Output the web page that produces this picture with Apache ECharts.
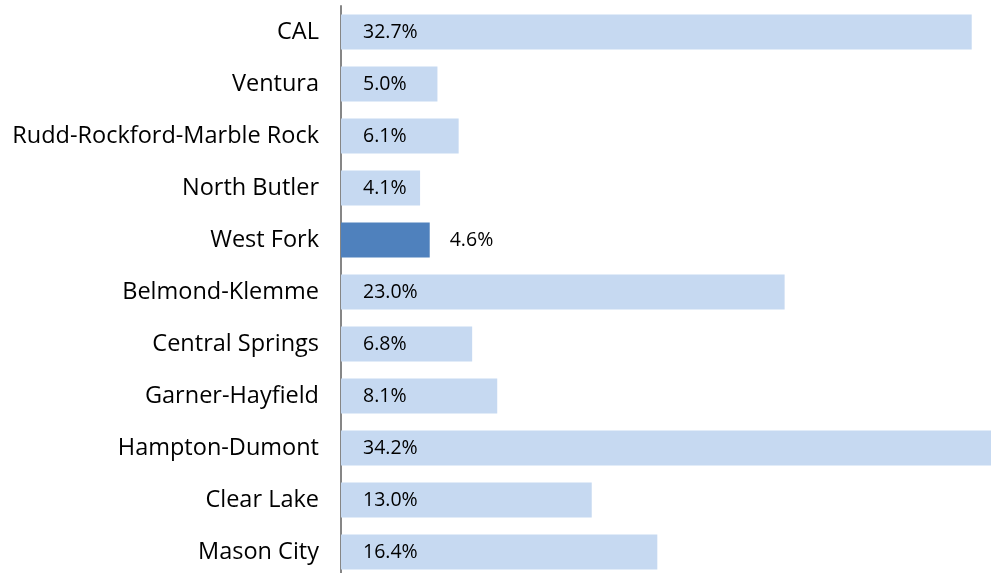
<!DOCTYPE html>
<html>
<head>
    <meta charset="utf-8">
    <title>bar chart</title>
    <script src="https://cdn.jsdelivr.net/npm/echarts@6/dist/echarts.min.js"></script>
    <style>
        html, body { margin: 0; padding: 0; background: #ffffff; overflow: hidden; }
        /* 图表比窗口略高，最下面一条被窗口截掉一点 */
        #main { width: 991px; height: 580px; }
    </style>
</head>
<body>
<div id="main"></div>
<script>
    var categories = ['CAL', 'Ventura', 'Rudd-Rockford-Marble Rock', 'North Butler', 'West Fork',
        'Belmond-Klemme', 'Central Springs', 'Garner-Hayfield', 'Hampton-Dumont', 'Clear Lake', 'Mason City'];
    var values = [32.7, 5.0, 6.1, 4.1, 4.6, 23.0, 6.8, 8.1, 34.2, 13.0, 16.4];
    var highlight = 'West Fork';

    var chart = echarts.init(document.getElementById('main'));

    // 高亮的那一条用深色，标签放在外面
    var barData = values.map(function (v, i) {
        var isHi = categories[i] === highlight;
        return {
            value: v,
            itemStyle: {color: isHi ? '#4f81bd' : '#c6d9f1'},
            label: isHi ? {position: 'right', distance: 20} : {position: 'insideLeft', distance: 22}
        };
    });

    var option = {
        animation: false,
        textStyle: {fontFamily: 'Open Sans'},
        grid: {left: 341, right: 0, top: 6, height: 572, containLabel: false},
        xAxis: {
            type: 'value',
            min: 0,
            max: 33.7,
            show: false
        },
        yAxis: {
            type: 'category',
            inverse: true,
            data: categories,
            axisLine: {show: true, lineStyle: {color: '#868686', width: 2}},
            axisTick: {show: false},
            axisLabel: {color: '#000000', fontSize: 23.5, fontFamily: 'Open Sans', margin: 22}
        },
        series: [{
            type: 'bar',
            data: barData,
            barWidth: 35,
            clip: true,
            label: {
                show: true,
                color: '#000000',
                fontSize: 19.5,
                fontFamily: 'Open Sans',
                formatter: function (p) { return p.value.toFixed(1) + '%'; }
            }
        }]
    };

    chart.setOption(option);

    window.onresize = function () {
        chart.resize();
    };
</script>
</body>
</html>
